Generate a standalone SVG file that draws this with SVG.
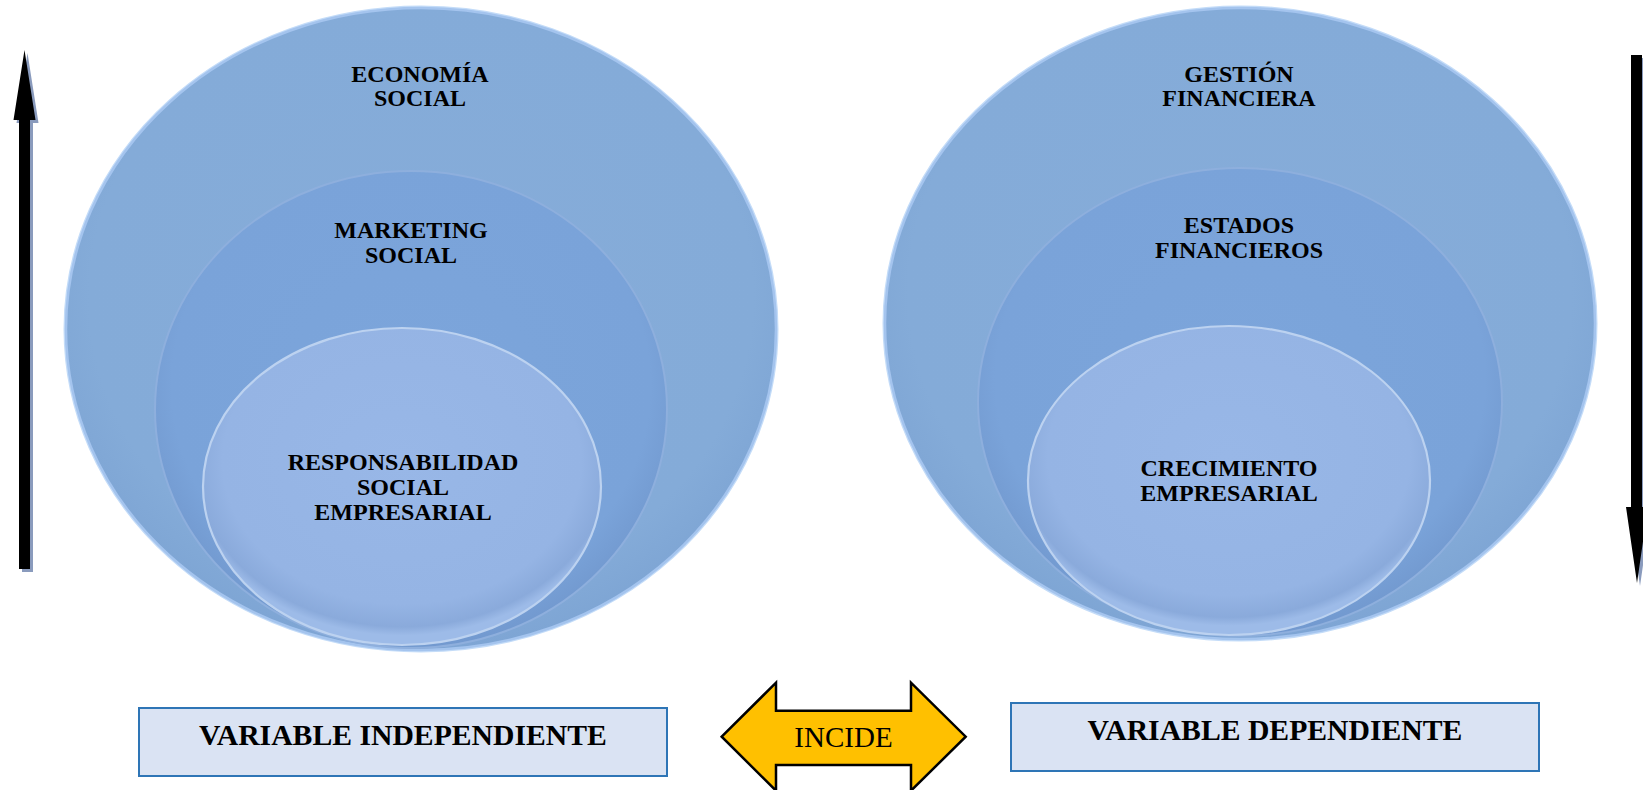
<svg xmlns="http://www.w3.org/2000/svg" width="1643" height="790" viewBox="0 0 1643 790">
  <style>
    .ring { font-family: "Liberation Serif", "Times New Roman", serif; font-weight: bold; font-size: 24px; fill: #000; text-anchor: middle; }
    .var { font-family: "Liberation Serif", "Times New Roman", serif; font-weight: bold; font-size: 29.7px; fill: #000; text-anchor: middle; }
    .inc { font-family: "Liberation Serif", "Times New Roman", serif; font-size: 29px; fill: #000; text-anchor: middle; }
    .box { fill: #dae3f3; stroke: #2e75b6; stroke-width: 2; }
    .outer { fill: url(#gOuter); stroke: #a4c4ee; stroke-width: 2.5; }
    .middle { fill: url(#gMiddle); stroke: #8eafdd; stroke-width: 2; }
    .inner { fill: url(#gInner); stroke: #bcd2f0; stroke-width: 2.2; }
  </style>
  <defs>
    <radialGradient id="gOuter" cx="50%" cy="45%" r="55%">
      <stop offset="0" stop-color="#86acd9"/>
      <stop offset="0.85" stop-color="#84abd8"/>
      <stop offset="1" stop-color="#7ea5d4"/>
    </radialGradient>
    <radialGradient id="gMiddle" cx="50%" cy="45%" r="55%">
      <stop offset="0" stop-color="#7ca5db"/>
      <stop offset="0.85" stop-color="#7aa3d9"/>
      <stop offset="1" stop-color="#7299cf"/>
    </radialGradient>
    <radialGradient id="gInner" cx="50%" cy="42%" r="55%">
      <stop offset="0" stop-color="#98b7e7"/>
      <stop offset="0.82" stop-color="#95b4e4"/>
      <stop offset="0.95" stop-color="#8aaadb"/>
      <stop offset="1" stop-color="#9dbbe8"/>
    </radialGradient>
  </defs>

  <g id="left-diagram">
    <g id="economia-social">
      <ellipse cx="421" cy="329" rx="355" ry="321" fill="none" stroke="#c4dcf8" stroke-width="5"/>
      <ellipse class="outer" cx="421" cy="329" rx="355" ry="321"/>
      <text class="ring" x="420" y="82">ECONOMÍA</text>
      <text class="ring" x="420" y="106">SOCIAL</text>
    </g>
    <g id="marketing-social">
      <ellipse class="middle" cx="411" cy="409.5" rx="256" ry="238.5"/>
      <text class="ring" x="411" y="238">MARKETING</text>
      <text class="ring" x="411" y="263">SOCIAL</text>
    </g>
    <g id="responsabilidad-social">
      <ellipse class="inner" cx="402" cy="486.5" rx="199" ry="158.5"/>
      <text class="ring" x="403" y="470">RESPONSABILIDAD</text>
      <text class="ring" x="403" y="495">SOCIAL</text>
      <text class="ring" x="403" y="520">EMPRESARIAL</text>
    </g>
  </g>

  <g id="right-diagram">
    <g id="gestion-financiera">
      <ellipse cx="1240" cy="323.5" rx="355" ry="315.5" fill="none" stroke="#c4dcf8" stroke-width="5"/>
      <ellipse class="outer" cx="1240" cy="323.5" rx="355" ry="315.5"/>
      <text class="ring" x="1239" y="82">GESTIÓN</text>
      <text class="ring" x="1239" y="106">FINANCIERA</text>
    </g>
    <g id="estados-financieros">
      <ellipse class="middle" cx="1240" cy="402" rx="262" ry="234"/>
      <text class="ring" x="1239" y="233">ESTADOS</text>
      <text class="ring" x="1239" y="258">FINANCIEROS</text>
    </g>
    <g id="crecimiento-empresarial">
      <ellipse class="inner" cx="1229" cy="480.5" rx="201" ry="154.5"/>
      <text class="ring" x="1229" y="476">CRECIMIENTO</text>
      <text class="ring" x="1229" y="501">EMPRESARIAL</text>
    </g>
  </g>

  <g id="connectors">
    <g id="arrow-up">
      <polygon points="16.5,123 22,123 22,572 33,572 33,123 38.5,123 27.5,53" fill="#8a9bbd"/>
      <polygon points="13.5,120 19,120 19,569 30,569 30,120 35.5,120 24.5,50" fill="#000"/>
    </g>
    <g id="arrow-down">
      <polygon points="1634,58 1645,58 1645,510 1651,510 1640,586 1629,510 1634,510" fill="#8a9bbd"/>
      <polygon points="1631,55 1642,55 1642,507 1648,507 1637,583 1626,507 1631,507" fill="#000"/>
    </g>
    <g id="incide">
      <polygon points="721.7,736.7 776,682.7 776,710.7 911,710.7 911,682.7 965.7,736.7 911,790.7 911,765 776,765 776,790.7" fill="#ffc000" stroke="#000" stroke-width="2.5" stroke-linejoin="miter"/>
      <text class="inc" x="843.5" y="747">INCIDE</text>
    </g>
  </g>

  <g id="variable-independiente">
    <rect class="box" x="139" y="708" width="528" height="68"/>
    <text class="var" x="403" y="745">VARIABLE INDEPENDIENTE</text>
  </g>
  <g id="variable-dependiente">
    <rect class="box" x="1011" y="703" width="528" height="68"/>
    <text class="var" x="1275" y="740">VARIABLE DEPENDIENTE</text>
  </g>
</svg>
